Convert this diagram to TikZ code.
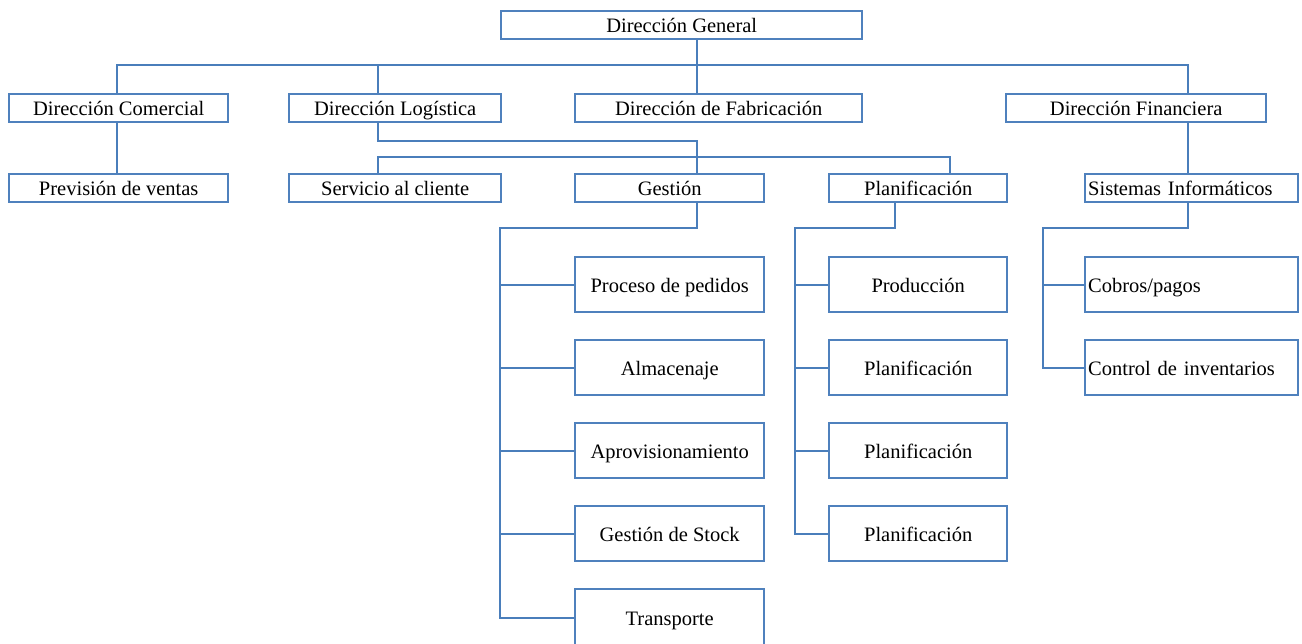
\documentclass[tikz,border=0pt]{standalone}
\usepackage{fontspec}
\setmainfont{Liberation Serif}
\definecolor{boxblue}{RGB}{79,129,189}
\definecolor{linkblue}{RGB}{74,126,187}
\begin{document}
\begin{tikzpicture}[x=1pt,y=-1pt,
  box/.style={draw=boxblue, line width=2.4pt, fill=white, inner sep=0pt,
    text height=16pt, text depth=1pt,
    anchor=north west, font=\fontsize{20.5}{24}\selectfont},
  lbox/.style={box, align=left, inner xsep=3pt},
  link/.style={draw=linkblue, line width=2.3pt}]
\useasboundingbox (0,0) rectangle (1302,643);

% connector junction points
\coordinate (c1) at (117,65);
\coordinate (c2) at (378,65);
\coordinate (c3) at (697,65);
\coordinate (c4) at (1188,65);
\coordinate (g1) at (697,141);
\coordinate (s1) at (378,157);
\coordinate (p1) at (950,157);
\coordinate (gA) at (697,228);
\coordinate (gB) at (500,228);
\coordinate (pA) at (895,228);
\coordinate (pB) at (795,228);
\coordinate (sA) at (1188,228);
\coordinate (sB) at (1043,228);

% top level
\node[box, minimum width=361pt, minimum height=28pt] (dg) at (500,10) {Dirección General};

% directions
\node[box, minimum width=219pt, minimum height=28pt] (com) at (8,93) {Dirección Comercial};
\node[box, minimum width=212pt, minimum height=28pt] (log) at (288,93) {Dirección Logística};
\node[box, minimum width=287pt, minimum height=28pt] (fab) at (574,93) {Dirección de Fabricación};
\node[box, minimum width=260pt, minimum height=28pt] (fin) at (1005,93) {Dirección Financiera};

% second level
\node[box, minimum width=219pt, minimum height=28pt] (prev) at (8,173) {Previsión de ventas};
\node[box, minimum width=212pt, minimum height=28pt] (ser) at (288,173) {Servicio al cliente};
\node[box, minimum width=189pt, minimum height=28pt] (ges) at (574,173) {Gestión};
\node[box, minimum width=178pt, minimum height=28pt] (pla) at (828,173) {Planificación};
\node[lbox, text width=207pt, minimum height=28pt] (sis) at (1084,173) {Sistemas Informáticos};

% Gestión children
\node[box, minimum width=189pt, minimum height=55pt] (ped) at (574,256) {Proceso de pedidos};
\node[box, minimum width=189pt, minimum height=55pt] (alm) at (574,339) {Almacenaje};
\node[box, minimum width=189pt, minimum height=55pt] (apr) at (574,422) {Aprovisionamiento};
\node[box, minimum width=189pt, minimum height=55pt] (sto) at (574,505) {Gestión de Stock};
\node[box, minimum width=189pt, minimum height=58pt] (tra) at (574,588) {Transporte};

% Planificación children
\node[box, minimum width=178pt, minimum height=55pt] (prod) at (828,256) {Producción};
\node[box, minimum width=178pt, minimum height=55pt] (plb) at (828,339) {Planificación};
\node[box, minimum width=178pt, minimum height=55pt] (plc) at (828,422) {Planificación};
\node[box, minimum width=178pt, minimum height=55pt] (pld) at (828,505) {Planificación};

% Sistemas children
\node[lbox, text width=207pt, minimum height=55pt] (cob) at (1084,256) {Cobros/pagos};
\node[lbox, text width=207pt, minimum height=55pt] (inv) at (1084,339) {Control de inventarios};

% main bus
\draw[link] (c1 |- com.north) -- (c1) -- (c4) -- (c4 |- fin.north);
\draw[link] (c2) -- (c2 |- log.north);
\draw[link] (c3 |- dg.south) -- (c3 |- fab.north);

% Comercial and Financiera
\draw[link] (c1 |- com.south) -- (c1 |- prev.north);
\draw[link] (c4 |- fin.south) -- (c4 |- sis.north);

% Logística
\draw[link] (c2 |- log.south) |- (g1) -- (g1 |- ges.north);
\draw[link] (s1 |- ser.north) -- (s1) -- (p1) -- (p1 |- pla.north);

% Gestión branch
\draw[link] (gA |- ges.south) -- (gA) -- (gB) -- (gB |- tra.west) -- (tra.west);
\foreach \n in {ped,alm,apr,sto}
  \draw[link] (gB |- \n.west) -- (\n.west);

% Planificación branch
\draw[link] (pA |- pla.south) -- (pA) -- (pB) -- (pB |- pld.west) -- (pld.west);
\foreach \n in {prod,plb,plc}
  \draw[link] (pB |- \n.west) -- (\n.west);

% Sistemas branch
\draw[link] (sA |- sis.south) -- (sA) -- (sB) -- (sB |- inv.west) -- (inv.west);
\draw[link] (sB |- cob.west) -- (cob.west);
\end{tikzpicture}
\end{document}
